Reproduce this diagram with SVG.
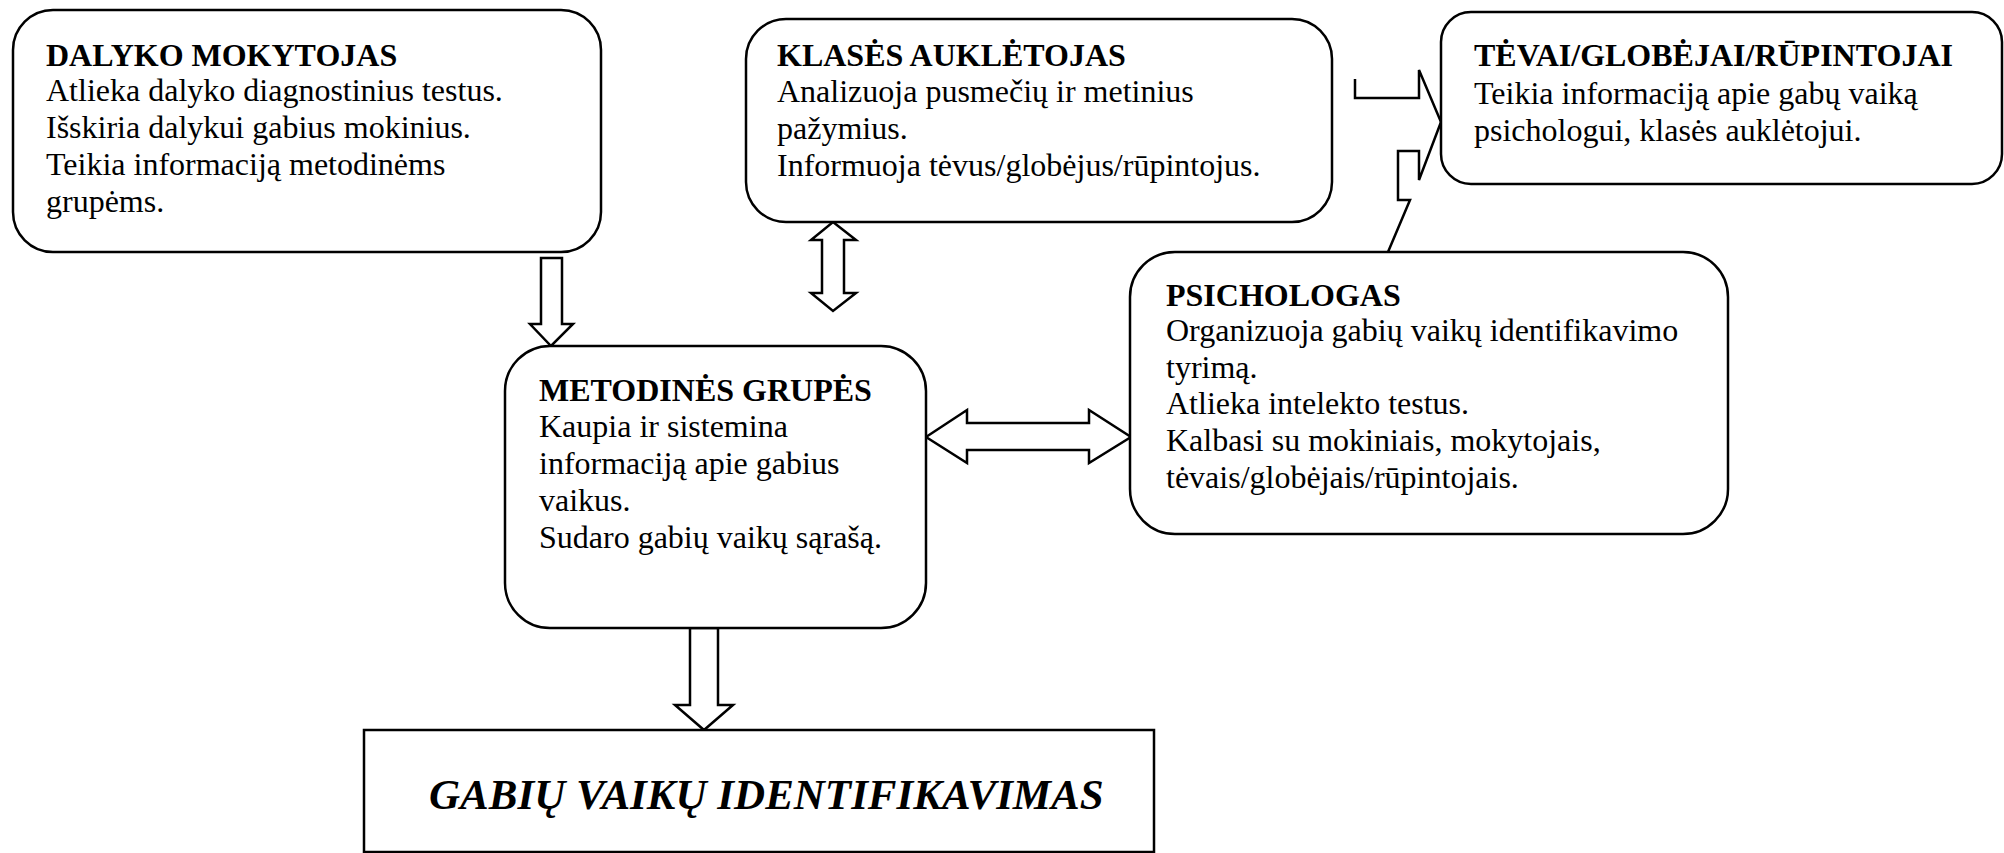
<svg xmlns="http://www.w3.org/2000/svg" width="2004" height="853" viewBox="0 0 2004 853">
<style>
.box{fill:#fff;stroke:#000;stroke-width:2.5}
.arr{fill:#fff;stroke:#000;stroke-width:2.5;stroke-linejoin:miter}
.t{font-family:"Liberation Serif","Times New Roman",serif;font-size:32px;fill:#000}
.b{font-weight:bold}
.big{font-family:"Liberation Serif","Times New Roman",serif;font-size:43px;font-style:italic;font-weight:bold;fill:#000}
</style>
<rect width="2004" height="853" fill="#fff"/>
<g id="connectors">
<polygon class="arr" points="541,258 562,258 562,324 573,324 551,346 530,324 541,324"/>
<polygon class="arr" points="833,222 856,240 844,240 844,293 856,293 833,311 811,293 822,293 822,240 811,240"/>
<polygon class="arr" points="926,437 967,410 967,423 1089,423 1089,410 1131,437 1089,463 1089,450 967,450 967,463"/>
<polygon class="arr" points="690,628 718,628 718,705 733,705 704,730 675,705 690,705"/>
<polyline class="arr" fill="none" points="1355,79 1355,98 1419,98 1419,70 1441,122 1419,180 1419,151 1398,151 1398,200 1410,200 1388,252"/>
</g>
<g id="dalyko">
<rect class="box" x="13" y="10" width="588" height="242" rx="40"/>
<text class="t" x="46"><tspan class="b" y="66">DALYKO MOKYTOJAS</tspan><tspan x="46" y="101">Atlieka dalyko diagnostinius testus.</tspan><tspan x="46" y="138">Išskiria dalykui gabius mokinius.</tspan><tspan x="46" y="175">Teikia informaciją metodinėms</tspan><tspan x="46" y="212">grupėms.</tspan></text>
</g>
<g id="klases">
<rect class="box" x="746" y="19" width="586" height="203" rx="40"/>
<text class="t" x="777"><tspan class="b" y="66">KLASĖS AUKLĖTOJAS</tspan><tspan x="777" y="102">Analizuoja pusmečių ir metinius</tspan><tspan x="777" y="139">pažymius.</tspan><tspan x="777" y="176">Informuoja tėvus/globėjus/rūpintojus.</tspan></text>
</g>
<g id="tevai">
<rect class="box" x="1441" y="12" width="561" height="172" rx="30"/>
<text class="t" x="1474"><tspan class="b" y="66">TĖVAI/GLOBĖJAI/RŪPINTOJAI</tspan><tspan x="1474" y="104">Teikia informaciją apie gabų vaiką</tspan><tspan x="1474" y="141">psichologui, klasės auklėtojui.</tspan></text>
</g>
<g id="psichologas">
<rect class="box" x="1130" y="252" width="598" height="282" rx="45"/>
<text class="t" x="1166"><tspan class="b" y="306">PSICHOLOGAS</tspan><tspan x="1166" y="341">Organizuoja gabių vaikų identifikavimo</tspan><tspan x="1166" y="378">tyrimą.</tspan><tspan x="1166" y="414">Atlieka intelekto testus.</tspan><tspan x="1166" y="451">Kalbasi su mokiniais, mokytojais,</tspan><tspan x="1166" y="488">tėvais/globėjais/rūpintojais.</tspan></text>
</g>
<g id="metodines">
<rect class="box" x="505" y="346" width="421" height="282" rx="45"/>
<text class="t" x="539"><tspan class="b" y="401">METODINĖS GRUPĖS</tspan><tspan x="539" y="437">Kaupia ir sistemina</tspan><tspan x="539" y="474">informaciją apie gabius</tspan><tspan x="539" y="511">vaikus.</tspan><tspan x="539" y="548">Sudaro gabių vaikų sąrašą.</tspan></text>
</g>
<g id="gabiu">
<rect class="box" x="364" y="730" width="790" height="122"/>
<text class="big" x="429" y="809">GABIŲ VAIKŲ IDENTIFIKAVIMAS</text>
</g>
</svg>
